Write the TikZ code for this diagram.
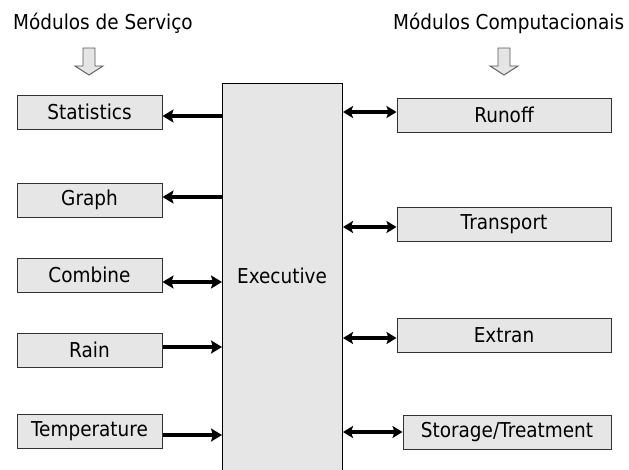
\documentclass[tikz,border=0pt]{standalone}
\usepackage{fontspec}
\setmainfont[FakeStretch=0.9]{DejaVu Sans}
\usetikzlibrary{arrows.meta}
\definecolor{boxfill}{HTML}{E6E6E6}
\definecolor{boxline}{HTML}{333333}
\begin{document}
\begin{tikzpicture}[x=1pt,y=-1pt,
  txt/.style={font=\fontsize{20.5}{24}\selectfont, text=black},
  modbox/.style={txt, draw=boxline, fill=boxfill, line width=1pt, inner sep=0pt, minimum height=34pt},
  leftbox/.style={modbox, minimum width=145pt},
  rightbox/.style={modbox, minimum width=214pt},
  lconn/.style={line width=4.5pt, draw=black},
  rconn/.style={line width=3.4pt, draw=black},
  tipL/.tip={Stealth[length=11pt,width=13pt,inset=2pt]},
  tipR/.tip={Stealth[length=10pt,width=12pt,inset=2pt]},
  blockarrow/.style={draw=black!65, fill=black!10, line width=0.9pt, line join=miter}
]
\useasboundingbox (0,0) rectangle (629,469);
% headers
\node[txt, anchor=base west, inner sep=0pt] (h1) at (13,29) {Módulos de Serviço};
\node[txt, anchor=base west, inner sep=0pt] (h2) at (393,29) {Módulos Computacionais};
% down arrows
\draw[blockarrow] (83,48) -- (95,48) -- (95,66) -- (103,66) -- (89,75) -- (75,66) -- (83,66) -- cycle;
\draw[blockarrow] (498,48) -- (510,48) -- (510,66) -- (518,66) -- (504,75) -- (490,66) -- (498,66) -- cycle;
% executive
\node[draw=black, fill=boxfill, line width=1pt, minimum width=120pt, minimum height=400pt, anchor=north west, inner sep=0pt] (exec) at (222,83) {};
\node[txt] (exectxt) at (282,276) {Executive};
% left modules
\node[leftbox] (stat) at (89.5,112) {Statistics};
\node[leftbox] (graph) at (89.5,200) {Graph};
\node[leftbox] (comb) at (89.5,275) {Combine};
\node[leftbox] (rain) at (89.5,350) {Rain};
\node[leftbox] (temp) at (89.5,431) {Temperature};
% right modules
\node[rightbox] (runoff) at (504,115) {Runoff};
\node[rightbox] (transp) at (504,224) {Transport};
\node[rightbox] (extran) at (504,335) {Extran};
\node[modbox, minimum width=208pt] (stor) at (507,432) {Storage/Treatment};
% left connectors
\draw[lconn, -{tipL}] (exec.west |- 0,116) -- (stat.east |- 0,116);
\draw[lconn, -{tipL}] (exec.west |- 0,197) -- (graph.east |- 0,197);
\draw[lconn, {tipL}-{tipL}] (comb.east |- 0,282) -- (exec.west |- 0,282);
\draw[lconn, -{tipL}] (rain.east |- 0,347) -- (exec.west |- 0,347);
\draw[lconn, -{tipL}] (temp.east |- 0,435) -- (exec.west |- 0,435);
% right connectors
\draw[rconn, {tipR}-{tipR}] (exec.east |- 0,112) -- (runoff.west |- 0,112);
\draw[rconn, {tipR}-{tipR}] (exec.east |- 0,227) -- (transp.west |- 0,227);
\draw[rconn, {tipR}-{tipR}] (exec.east |- 0,338) -- (extran.west |- 0,338);
\draw[rconn, {tipR}-{tipR}] (exec.east |- 0,432) -- (stor.west |- 0,432);
\end{tikzpicture}
\end{document}
